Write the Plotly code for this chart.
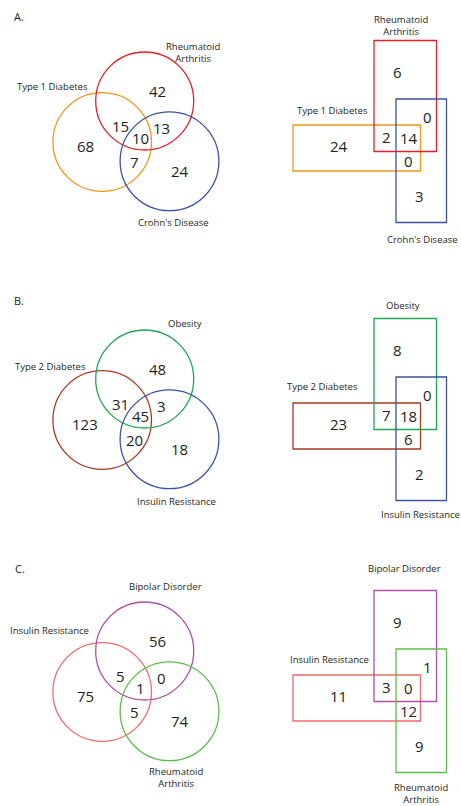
import plotly.graph_objects as go

# ---- data -------------------------------------------------------------
panel_letters = ["A.", "B.", "C."]

# set names per panel: (left set, top set, right set)
left_sets = ["Type 1 Diabetes", "Type 2 Diabetes", "Insulin Resistance"]
top_sets = ["Rheumatoid<br>Arthritis", "Obesity", "Bipolar Disorder"]
right_sets = ["Crohn's Disease", "Insulin Resistance", "Rheumatoid<br>Arthritis"]

# region order: left only, top only, right only, left&top, top&right, left&right, all three
region_names = ["L", "T", "R", "LT", "TR", "LR", "LTR"]
circle_counts_A = [68, 42, 24, 15, 13, 7, 10]
circle_counts_B = [123, 48, 18, 31, 3, 20, 45]
circle_counts_C = [75, 56, 74, 5, 0, 5, 1]
rect_counts_A = [24, 6, 3, 2, 0, 0, 14]
rect_counts_B = [23, 8, 2, 7, 0, 6, 18]
rect_counts_C = [11, 9, 9, 3, 1, 12, 0]

circle_counts = [circle_counts_A, circle_counts_B, circle_counts_C]
rect_counts = [rect_counts_A, rect_counts_B, rect_counts_C]

# ---- styling / layout -------------------------------------------------
W, H = 461, 806
panel_dy = [0, 278, 550]
colors = [
    ("#F7941D", "#ED1C24", "#3A53A4"),
    ("#A8391E", "#1FA84F", "#3A53A4"),
    ("#F26A6A", "#B04FA8", "#5BBF4A"),
]
FONT = "Open Sans"
NUM_SIZE = 15
LBL_SIZE = 9.5

# circle geometry (centre x, centre y, radius) for left, top, right sets
circ_geo = [(102.2, 142.0, 49.3), (144.7, 101.0, 49.0), (169.5, 161.3, 49.4)]
circ_num_pos = {
    "L": (85, 145.5), "T": (157, 91.3), "R": (179.5, 171.2),
    "LT": (120.5, 125.5), "TR": (161, 128.2), "LR": (134.5, 162.3),
    "LTR": (140, 137.8),
}
# rectangle geometry (x0, y0, x1, y1) for left, top, right sets
rect_geo = [(293, 125, 420.5, 171), (374, 40.5, 436.5, 151.5), (396, 99, 446.5, 222.5)]
rect_num_pos = {
    "L": (338.6, 145.5), "T": (397.5, 71.5), "R": (419.2, 196),
    "LT": (386, 137.2), "TR": (427.7, 116.5), "LR": (408.2, 161),
    "LTR": (408.7, 137.6),
}
# set-label anchors: (x, y, xanchor) for circle diagram then rectangle diagram
circ_lbl_pos = [
    [(52, 86.7, "center"), (193, 52, "center"), (173, 222.7, "center")],
    [(50, 88, "center"), (185, 45.3, "center"), (176.7, 223, "center")],
    [(49.3, 80, "center"), (165.7, 36.7, "center"), (176, 227, "center")],
]
rect_lbl_pos = [
    [(332.7, 110.7, "center"), (401, 25.3, "center"), (422.7, 239, "center")],
    [(322.7, 108.7, "center"), (402.7, 27, "center"), (460.5, 236.3, "right")],
    [(329.3, 109.3, "center"), (404, 18.3, "center"), (421, 243.5, "center")],
]
letter_pos = [(13, 16), (13, 22), (14, 18.3)]

fig = go.Figure()
shapes, annotations = [], []


def text(x, y, s, size, anchor="center"):
    annotations.append(dict(
        x=x, y=y, xref="x", yref="y", text=s, showarrow=False,
        xanchor=anchor, yanchor="middle", borderpad=0,
        font=dict(family=FONT, size=size, color="#231F20"),
    ))


for p in range(3):
    dy = panel_dy[p]
    cols = colors[p]
    names = [left_sets[p], top_sets[p], right_sets[p]]

    # circle Venn
    for (cx, cy, r), col in zip(circ_geo, cols):
        shapes.append(dict(type="circle", xref="x", yref="y",
                           x0=cx - r, x1=cx + r, y0=cy - r + dy, y1=cy + r + dy,
                           line=dict(color=col, width=1.3)))
    for name, val in zip(region_names, circle_counts[p]):
        x, y = circ_num_pos[name]
        text(x, y + dy, str(val), NUM_SIZE)

    # rectangle Venn
    for (x0, y0, x1, y1), col in zip(rect_geo, cols):
        shapes.append(dict(type="rect", xref="x", yref="y",
                           x0=x0, x1=x1, y0=y0 + dy, y1=y1 + dy,
                           line=dict(color=col, width=1.3)))
    for name, val in zip(region_names, rect_counts[p]):
        x, y = rect_num_pos[name]
        text(x, y + dy, str(val), NUM_SIZE)

    # set labels
    for (x, y, anc), nm in zip(circ_lbl_pos[p], names):
        text(x, y + dy, nm, LBL_SIZE, anc)
    for (x, y, anc), nm in zip(rect_lbl_pos[p], names):
        text(x, y + dy, nm, LBL_SIZE, anc)

    lx, ly = letter_pos[p]
    text(lx, ly + dy, panel_letters[p], 11, "left")

fig.update_layout(
    width=W, height=H,
    margin=dict(l=0, r=0, t=0, b=0),
    paper_bgcolor="white", plot_bgcolor="white",
    shapes=shapes, annotations=annotations,
    xaxis=dict(range=[0, W], visible=False, fixedrange=True),
    yaxis=dict(range=[H, 0], visible=False, fixedrange=True),
    showlegend=False,
)

fig.write_html("out.html", config={"displayModeBar": False})
